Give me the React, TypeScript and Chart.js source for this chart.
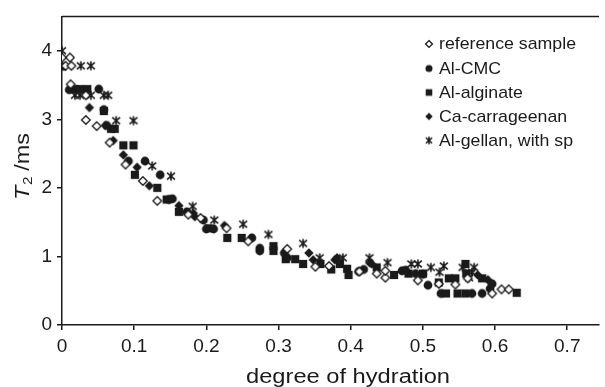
import { useEffect, useRef } from 'react';
import { Chart, registerables } from 'chart.js';

Chart.register(...registerables);

// ---- data (degree of hydration, T2 in ms) ----
const seriesNames = ['reference sample', 'Al-CMC', 'Al-alginate', 'Ca-carrageenan', 'Al-gellan, with sp'];

const refSample: number[][] = [
  [0.000, 3.90], [0.011, 3.90], [0.005, 3.78], [0.013, 3.78], [0.012, 3.51], [0.033, 3.35],
  [0.033, 2.99], [0.048, 2.90], [0.066, 2.66], [0.088, 2.34], [0.112, 2.10], [0.132, 1.81],
  [0.175, 1.61], [0.192, 1.56], [0.228, 1.41], [0.258, 1.22], [0.312, 1.11], [0.351, 0.85],
  [0.370, 0.86], [0.412, 0.78], [0.436, 0.75], [0.448, 0.69], [0.448, 0.79], [0.493, 0.65],
  [0.522, 0.60], [0.545, 0.59], [0.562, 0.68], [0.596, 0.46], [0.609, 0.52], [0.619, 0.52],
];

const alCMC: number[][] = [
  [0.010, 3.43], [0.051, 3.44], [0.058, 3.14], [0.062, 2.91], [0.092, 2.39], [0.115, 2.39],
  [0.136, 2.19], [0.148, 1.83], [0.153, 1.84], [0.173, 1.65], [0.196, 1.53], [0.200, 1.40],
  [0.210, 1.40], [0.263, 1.27], [0.274, 1.08], [0.274, 1.12], [0.308, 1.05], [0.312, 0.98],
  [0.411, 0.78], [0.418, 0.81], [0.471, 0.79], [0.476, 0.80], [0.490, 0.75], [0.500, 0.74],
  [0.507, 0.58], [0.525, 0.46], [0.568, 0.46], [0.582, 0.46], [0.593, 0.53], [0.596, 0.60],
];

const alAlginate: number[][] = [
  [0.000, 3.77], [0.018, 3.44], [0.025, 3.44], [0.035, 3.44], [0.058, 3.12], [0.068, 2.86],
  [0.073, 2.86], [0.085, 2.62], [0.099, 2.62], [0.101, 2.19], [0.132, 2.00], [0.145, 1.83],
  [0.162, 1.65], [0.203, 1.41], [0.229, 1.27], [0.249, 1.27], [0.293, 1.15], [0.293, 1.08],
  [0.310, 0.96], [0.323, 0.96], [0.334, 0.89], [0.358, 0.89], [0.373, 0.81], [0.385, 0.89],
  [0.395, 0.82], [0.397, 0.73], [0.436, 0.84], [0.460, 0.73], [0.480, 0.75], [0.500, 0.75],
  [0.522, 0.62], [0.536, 0.68], [0.545, 0.68], [0.532, 0.46], [0.548, 0.46], [0.559, 0.46],
  [0.559, 0.89], [0.560, 0.75], [0.582, 0.68], [0.630, 0.47],
];

const caCarrageenan: number[][] = [
  [0.038, 3.17], [0.060, 2.91], [0.071, 2.69], [0.085, 2.48], [0.104, 2.30], [0.121, 2.03],
  [0.162, 1.74], [0.182, 1.63], [0.184, 1.58], [0.225, 1.45], [0.342, 1.05], [0.348, 0.95],
  [0.378, 0.95], [0.381, 0.98], [0.426, 0.91], [0.429, 0.89], [0.576, 0.73], [0.590, 0.66],
];

const alGellan: number[][] = [
  [0.000, 4.00], [0.026, 3.78], [0.040, 3.78], [0.018, 3.35], [0.025, 3.35], [0.040, 3.35],
  [0.058, 3.35], [0.064, 3.35], [0.075, 2.98], [0.099, 2.98], [0.125, 2.32], [0.151, 2.17],
  [0.181, 1.73], [0.211, 1.53], [0.251, 1.47], [0.286, 1.32], [0.334, 1.19], [0.357, 0.98],
  [0.389, 0.98], [0.426, 0.98], [0.451, 0.91], [0.484, 0.89], [0.493, 0.89], [0.511, 0.84],
  [0.529, 0.86], [0.523, 0.77], [0.555, 0.84], [0.571, 0.84], [0.568, 0.77], [0.564, 0.69],
];

const xTickLabels = ['0', '0.1', '0.2', '0.3', '0.4', '0.5', '0.6', '0.7'];
const yTickLabels = ['0', '1', '2', '3', '4'];

const markerKinds = ['openDiamond', 'circle', 'square', 'diamond', 'star'];

const INK = '#1a1a1a';
const FONT = '"Liberation Sans", Arial, Helvetica, sans-serif';

function makeMarker(kind: string, s: number): HTMLCanvasElement {
  const c = document.createElement('canvas');
  c.width = 14;
  c.height = 14;
  const ctx = c.getContext('2d')!;
  ctx.translate(7, 7);
  ctx.fillStyle = INK;
  ctx.strokeStyle = INK;
  if (kind === 'openDiamond') {
    const r = 4.3 * s;
    ctx.beginPath();
    ctx.moveTo(0, -r); ctx.lineTo(r, 0); ctx.lineTo(0, r); ctx.lineTo(-r, 0); ctx.closePath();
    ctx.fillStyle = '#fff';
    ctx.fill();
    ctx.lineWidth = 1.3;
    ctx.stroke();
  } else if (kind === 'circle') {
    ctx.beginPath();
    ctx.arc(0, 0, 4.4 * s, 0, Math.PI * 2);
    ctx.fill();
  } else if (kind === 'square') {
    const h = 4.1 * s;
    ctx.fillRect(-h, -h, 2 * h, 2 * h);
  } else if (kind === 'diamond') {
    const r = 4.7 * s;
    ctx.beginPath();
    ctx.moveTo(0, -r); ctx.lineTo(r, 0); ctx.lineTo(0, r); ctx.lineTo(-r, 0); ctx.closePath();
    ctx.fill();
  } else {
    const r = 4.6 * s;
    ctx.lineWidth = 1.6;
    ctx.beginPath();
    ctx.moveTo(0, -r); ctx.lineTo(0, r);
    ctx.moveTo(-r * 0.85, -r * 0.75); ctx.lineTo(r * 0.85, r * 0.75);
    ctx.moveTo(-r * 0.85, r * 0.75); ctx.lineTo(r * 0.85, -r * 0.75);
    ctx.stroke();
  }
  return c;
}

function fitText(ctx: CanvasRenderingContext2D, text: string, x: number, y: number, target: number) {
  const w = ctx.measureText(text).width;
  ctx.save();
  ctx.translate(x, y);
  ctx.scale(target / w, 1);
  ctx.fillText(text, 0, 0);
  ctx.restore();
}

export default function App() {
  const ref = useRef<HTMLCanvasElement | null>(null);

  useEffect(() => {
    if (!ref.current) return;
    const allSeries = [refSample, alCMC, alAlginate, caCarrageenan, alGellan];
    const pointImgs = markerKinds.map((k) => makeMarker(k, 1));
    const legendImgs = markerKinds.map((k) => makeMarker(k, 0.8));

    const decor = {
      id: 'decor',
      afterDraw(chart: any) {
        const ctx = chart.ctx as CanvasRenderingContext2D;
        const a = chart.chartArea;
        ctx.save();
        // top frame line
        ctx.strokeStyle = INK;
        ctx.lineWidth = 1.5;
        ctx.beginPath();
        ctx.moveTo(a.left, a.top);
        ctx.lineTo(a.right, a.top);
        ctx.stroke();

        ctx.fillStyle = INK;
        // legend
        ctx.font = `17px ${FONT}`;
        ctx.textBaseline = 'middle';
        ctx.textAlign = 'left';
        const w0 = ctx.measureText(seriesNames[0]).width;
        const sx = 137 / w0;
        const rows = [44, 68.5, 92.5, 116.5, 140.5];
        seriesNames.forEach((name, i) => {
          const img = legendImgs[i];
          ctx.drawImage(img, 429 - img.width / 2, rows[i] - img.height / 2);
          const w = ctx.measureText(name).width;
          fitText(ctx, name, 439, rows[i] + 0.5, w * sx);
        });

        // x title
        ctx.font = `20px ${FONT}`;
        ctx.textBaseline = 'alphabetic';
        fitText(ctx, 'degree of hydration', 246, 383, 204);

        // y title: italic T, subscript 2, " /ms"
        ctx.save();
        ctx.translate(29, 200);
        ctx.rotate(-Math.PI / 2);
        ctx.font = `italic 20px ${FONT}`;
        const wT = ctx.measureText('T').width;
        ctx.font = `13px ${FONT}`;
        const w2 = ctx.measureText('2').width;
        ctx.font = `20px ${FONT}`;
        const wR = ctx.measureText(' /ms').width;
        const total = wT + w2 + wR;
        ctx.scale(67 / total, 1);
        ctx.font = `italic 20px ${FONT}`;
        ctx.fillText('T', 0, 0);
        ctx.font = `13px ${FONT}`;
        ctx.fillText('2', wT + 0.5, 3);
        ctx.font = `20px ${FONT}`;
        ctx.fillText(' /ms', wT + w2, 0);
        ctx.restore();

        ctx.restore();
      },
    };

    const chart = new Chart(ref.current, {
      type: 'scatter',
      data: {
        datasets: allSeries.map((s, i) => ({
          label: seriesNames[i],
          data: s.map(([x, y]) => ({ x, y })),
          pointStyle: pointImgs[i] as any,
          pointRadius: 5,
          pointHoverRadius: 5,
          backgroundColor: INK,
          borderColor: INK,
        })),
      },
      options: {
        animation: false,
        responsive: false,
        events: [],
        layout: { padding: { top: 12, right: 0, left: 0, bottom: 0 } },
        plugins: {
          legend: { display: false },
          tooltip: { enabled: false },
        },
        scales: {
          x: {
            type: 'linear',
            min: 0,
            max: 0.744,
            afterFit: (s: any) => { s.height = 62; },
            border: { display: true, color: INK, width: 1.5 },
            grid: { display: true, drawOnChartArea: false, drawTicks: true, tickLength: 5, color: INK, lineWidth: 1.5 },
            ticks: {
              stepSize: 0.1,
              includeBounds: false,
              color: INK,
              padding: 5,
              maxRotation: 0,
              font: { family: FONT, size: 19 },
              callback: (_v: any, i: number) => xTickLabels[i],
            },
          },
          y: {
            type: 'linear',
            min: 0,
            max: 4.5,
            afterFit: (s: any) => { s.width = 62; },
            border: { display: true, color: INK, width: 1.5 },
            grid: { display: true, drawOnChartArea: false, drawTicks: true, tickLength: 5, color: INK, lineWidth: 1.5 },
            ticks: {
              stepSize: 1,
              includeBounds: false,
              color: INK,
              padding: 5,
              font: { family: FONT, size: 19 },
              callback: (_v: any, i: number) => yTickLabels[i],
            },
          },
        },
      },
      plugins: [decor],
    });
    return () => chart.destroy();
  }, []);

  return (
    <div style={{ position: 'absolute', left: 0, top: 0, width: 605, height: 387, background: '#fff' }}>
      <canvas ref={ref} width={605} height={387} style={{ display: 'block' }} />
    </div>
  );
}
